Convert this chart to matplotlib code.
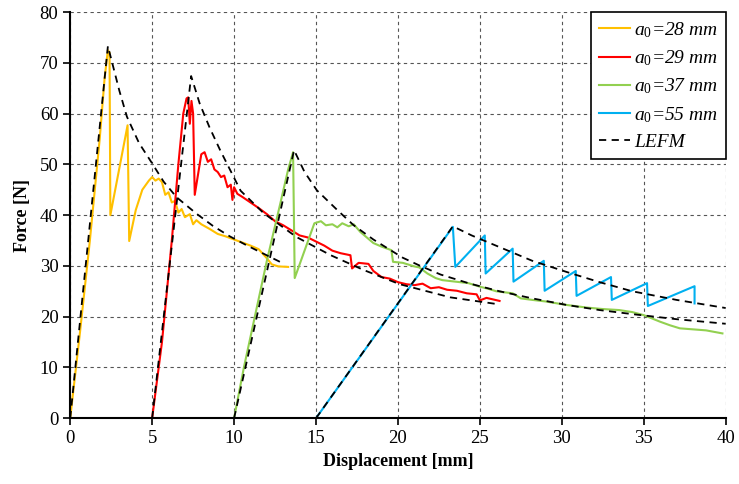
import matplotlib
matplotlib.use('Agg')
import matplotlib.pyplot as plt

plt.rcParams['font.family'] = ['Liberation Serif', 'DejaVu Serif']
plt.rcParams['mathtext.fontset'] = 'custom'
plt.rcParams['mathtext.it'] = 'Liberation Serif:italic'
plt.rcParams['mathtext.rm'] = 'Liberation Serif'

# a0 = 28 mm
x28 = [0, 0.6, 1.2, 1.8, 2.1, 2.3, 2.4, 2.45, 3.5, 3.6, 4.0, 4.4, 4.8, 5.0, 5.2, 5.4,
       5.6, 5.8, 6.0, 6.2, 6.4, 6.6, 6.8, 7.0, 7.3, 7.5, 7.7, 8.0, 8.5, 9.0, 9.5, 10.0,
       10.5, 11.0, 11.5, 12.0, 12.3, 12.7, 13.3]
f28 = [0, 17, 35, 55, 67, 72.5, 72, 40, 57.7, 34.9, 41, 45, 46.8, 47.5, 46.8, 47.2,
       46.5, 44, 44.5, 42.5, 42.8, 40.5, 41.2, 39.6, 40.2, 38.2, 39.0, 38.2, 37.3, 36.3, 35.8, 35.2,
       34.6, 34.0, 33.3, 31.5, 30.3, 29.9, 29.8]

# a0 = 29 mm
x29 = [5, 5.6, 6.2, 6.6, 6.9, 7.1, 7.2, 7.3, 7.4, 7.5, 7.6, 7.8, 8.0, 8.2, 8.4, 8.6, 8.8,
       9.0, 9.2, 9.4, 9.6, 9.8, 9.9, 10.0, 10.2, 10.5, 11.0, 11.5, 12.0, 12.5, 13.0, 13.5,
       14.0, 14.5, 15.0, 15.5, 16.0, 16.5, 17.1, 17.2, 17.6, 18.2, 18.5, 19.0, 19.5, 20.0,
       20.5, 21.0, 21.5, 22.0, 22.5, 23.0, 23.6, 24.2, 24.8, 25.0, 25.4, 26.2]
f29 = [0, 15, 35, 50, 60, 63, 63.2, 58, 62.5, 60, 44, 48, 52, 52.4, 50.5, 51, 49,
       48.5, 47.5, 47.8, 45.5, 46, 43, 45.5, 44.2, 43.6, 42.5, 41.4, 40.2, 38.8, 38.0, 37.0,
       36.0, 35.6, 34.8, 34.0, 33.0, 32.5, 32.1, 29.5, 30.6, 30.4, 29.0, 27.8, 27.5, 26.8,
       26.4, 26.2, 26.5, 25.6, 25.8, 25.3, 25.1, 24.6, 24.4, 23.2, 23.7, 23.1]

# a0 = 37 mm
x37 = [10, 10.6, 11.2, 12.0, 12.8, 13.3, 13.6, 13.7, 14.3, 14.9, 15.3, 15.6, 16.0, 16.3,
       16.6, 17.0, 17.3, 17.7, 18.1, 18.5, 19.0, 19.6, 19.7, 20.3, 21.0, 21.3, 21.8, 22.3,
       22.7, 23.5, 24.3, 25.0, 25.5, 26.0, 27.0, 27.5, 28.2, 29.0, 30.3, 31.5, 32.5, 33.5,
       34.3, 35.0, 36.0, 36.6, 37.2, 38.0, 38.8, 39.8]
f37 = [0, 10, 19, 31, 42, 49, 52.4, 27.6, 33, 38.4, 38.8, 38.0, 38.2, 37.6,
       38.4, 37.8, 38.2, 36.7, 35.6, 34.5, 33.8, 33.1, 30.8, 30.6, 29.9, 29.7, 28.5, 27.6,
       27.2, 26.9, 26.6, 25.9, 25.5, 25.0, 24.6, 23.6, 23.3, 23.0, 22.3, 21.8, 21.5, 21.3,
       20.9, 20.3, 19.0, 18.3, 17.7, 17.5, 17.3, 16.7]

# a0 = 55 mm
x55 = [15, 23.35, 23.5, 25.3, 25.35, 27.0, 27.05, 28.9, 28.95, 30.85, 30.9, 33.0, 33.05,
       35.2, 35.25, 38.1, 38.1]
f55 = [0, 37.7, 29.8, 36.0, 28.5, 33.4, 26.9, 31.0, 25.1, 29.0, 24.1, 27.8, 23.3,
       26.6, 22.1, 26.0, 22.6]

# LEFM predictions
lefm_x = [
    [0, 2.3, 3.0, 3.46, 4.2, 5.0, 5.7, 6.5, 7.7, 8.7, 9.75, 10.8, 11.8, 12.8],
    [5, 7.38, 7.9, 8.5, 9.15, 10.4, 11.8, 13.8, 15.9, 17.9, 20.1, 23.2, 26.0],
    [10, 13.66, 14.3, 15.05, 16.3, 17.3, 18.5, 19.3, 20.3, 21.3, 22.6, 24.4, 26.2, 28.2,
     30.3, 32.3, 34.3, 37.0, 40.0],
    [15, 23.35, 24.5, 26.2, 28.2, 30.3, 32.3, 34.3, 37.0, 40.0],
]
lefm_f = [
    [0, 73.3, 64.5, 59.4, 54.2, 50.2, 46.6, 43.5, 40.3, 37.9, 35.8, 34.0, 32.4, 30.8],
    [0, 67.4, 62.0, 57.3, 52.8, 44.8, 40.4, 35.7, 32.1, 29.2, 26.4, 23.8, 22.5],
    [0, 52.8, 48.5, 44.9, 41.0, 38.0, 35.2, 33.6, 31.6, 30.1, 28.3, 26.5, 25.0, 23.6,
     22.3, 21.3, 20.5, 19.5, 18.6],
    [0, 37.8, 36.0, 33.7, 31.0, 28.8, 26.8, 25.0, 23.3, 21.7],
]

fig = plt.figure(figsize=(7.39, 4.84), dpi=100)
ax = fig.add_axes([0.095, 0.136, 0.887, 0.839])

ax.plot(x28, f28, color='#FFC000', lw=1.5, label='$a_0$=28 mm')
ax.plot(x29, f29, color='#FF0000', lw=1.5, label='$a_0$=29 mm')
ax.plot(x37, f37, color='#92D050', lw=1.5, label='$a_0$=37 mm')
ax.plot(x55, f55, color='#00B0F0', lw=1.5, label='$a_0$=55 mm')
for i in range(len(lefm_x)):
    ax.plot(lefm_x[i], lefm_f[i], color='black', lw=1.3, ls=(0, (4, 3)),
            label='LEFM' if i == 0 else None)

ax.set_xlim(0, 40)
ax.set_ylim(0, 80)
ax.set_xticks(range(0, 41, 5))
ax.set_yticks(range(0, 81, 10))
ax.grid(True, color='#555555', ls=(0, (3, 3)), lw=0.8)
ax.set_axisbelow(True)
for s in ['top', 'right']:
    ax.spines[s].set_visible(False)
for s in ['left', 'bottom']:
    ax.spines[s].set_linewidth(1.5)
ax.tick_params(direction='out', length=5, width=1.2, labelsize=13.5)

ax.set_xlabel('Displacement [mm]', fontsize=13, fontweight='bold', labelpad=4)
ax.set_ylabel('Force [N]', fontsize=13, fontweight='bold', labelpad=6)

leg = ax.legend(loc='upper right', borderaxespad=0, fancybox=False, framealpha=1,
                edgecolor='black', prop={'style': 'italic', 'size': 14},
                handlelength=1.6, handletextpad=0.2, labelspacing=0.45)
leg.get_frame().set_linewidth(1.2)

fig.savefig('out.png', dpi=100)
